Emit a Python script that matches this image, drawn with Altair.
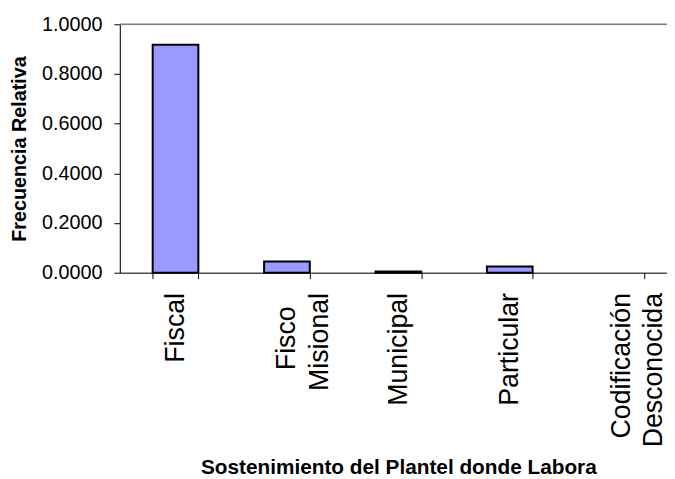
import altair as alt
import pandas as pd

categories = ["Fiscal", "Fisco\nMisional", "Municipal", "Particular", "Codificación\nDesconocida"]
values = [0.918, 0.045, 0.005, 0.025, 0.0]
y_ticks = [0.0, 0.2, 0.4, 0.6, 0.8, 1.0]
top_line = [1.0]

FONT = "Liberation Sans"

df = pd.DataFrame({"cat": categories, "val": values})
df_top = pd.DataFrame({"v": top_line})

# centre the shorter line of a two-line label under the longer one
L = "split(datum.label, '\\n')"
A = L + "[0]"
B = L + "[1]"
SP = "'\u2002'"
WJ = "'\u2060'"
label_expr = (
    f"length({L}) < 2 ? datum.label : ["
    f"pad({A}, length({A}) + floor(max(0, length({B}) - length({A})) * 0.4), {SP}) + {WJ}, "
    f"pad({B}, length({B}) + floor(max(0, length({A}) - length({B})) * 0.4), {SP}) + {WJ}]"
)

x_enc = alt.X(
    "cat:N",
    sort=categories,
    scale=alt.Scale(range=[0, 563], paddingInner=0.59, paddingOuter=0.295),
    axis=alt.Axis(
        title="Sostenimiento del Plantel donde Labora",
        labelAngle=270,
        labelAlign="right",
        labelBaseline="middle",
        labelExpr=label_expr,
        labelFont=FONT,
        labelFontSize=27,
        labelLineHeight=33,
        labelPadding=14,
        labelColor="#000000",
        labelLimit=400,
        tickBand="extent",
        tickSize=6,
        tickColor="#000000",
        domainColor="#000000",
        grid=False,
        titleFont=FONT,
        titleFontSize=21,
        titleFontWeight="bold",
        titleColor="#000000",
        titleY=186,
        titleBaseline="top",
    ),
)

y_enc = alt.Y(
    "val:Q",
    scale=alt.Scale(domain=[0, 1], nice=False),
    axis=alt.Axis(
        title="Frecuencia Relativa",
        values=y_ticks,
        format=".4f",
        labelFont=FONT,
        labelFontSize=20,
        labelPadding=12,
        labelColor="#000000",
        tickSize=6,
        tickColor="#000000",
        domainColor="#000000",
        grid=False,
        titleFont=FONT,
        titleFontSize=20,
        titleFontWeight="bold",
        titleColor="#000000",
        titleX=-91,
        titleAngle=270,
        titleBaseline="bottom",
        titleAlign="center",
    ),
)

top = alt.Chart(df_top).mark_rule(color="#808080", strokeWidth=1.5).encode(
    y=alt.Y("v:Q", scale=alt.Scale(domain=[0, 1], nice=False))
)

bars = alt.Chart(df).mark_bar(color="#9999FF", stroke="#000000", strokeWidth=2).encode(
    x=x_enc,
    y=y_enc,
    strokeOpacity=alt.condition(alt.datum.val > 0, alt.value(1), alt.value(0)),
)

chart = alt.layer(top, bars).properties(
    width=553,
    height=251,
    autosize=alt.AutoSizeParams(type="none"),
    padding={"left": 113, "top": 14, "right": 0, "bottom": 206},
).configure_view(strokeWidth=0).configure(background="white")

chart.save("out.html", embed_options={"renderer": "svg", "actions": False})
